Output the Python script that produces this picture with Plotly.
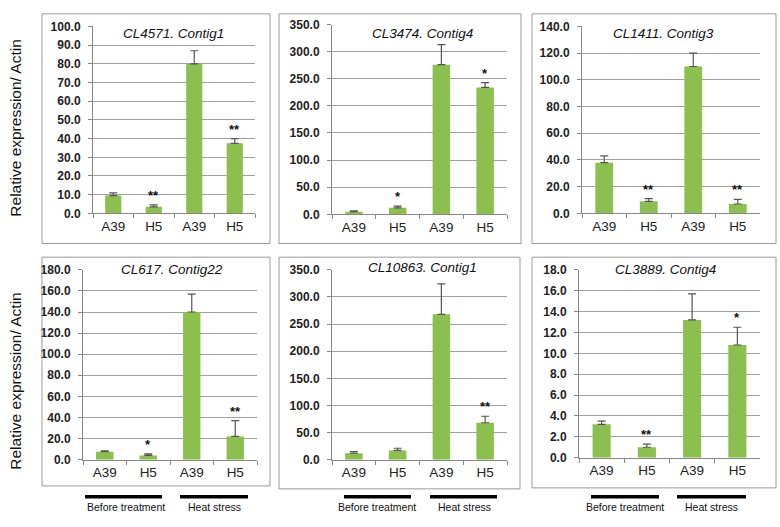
import plotly.graph_objects as go

W, H = 780, 527

categories = ["A39", "H5", "A39 ", "H5 "]
cat_labels = ["A39", "H5", "A39", "H5"]

titles = ["CL4571. Contig1", "CL3474. Contig4", "CL1411. Contig3",
          "CL617. Contig22", "CL10863. Contig1", "CL3889. Contig4"]

vals_cl4571 = [9.5, 3.5, 80.0, 37.5]
err_cl4571 = [1.5, 1.0, 7.0, 2.5]
sig_cl4571 = ["", "**", "", "**"]

vals_cl3474 = [5.0, 12.0, 276.0, 234.0]
err_cl3474 = [1.5, 3.0, 37.0, 9.0]
sig_cl3474 = ["", "*", "", "*"]

vals_cl1411 = [38.0, 9.0, 110.0, 7.0]
err_cl1411 = [5.0, 2.0, 10.0, 3.5]
sig_cl1411 = ["", "**", "", "**"]

vals_cl617 = [7.5, 4.0, 140.0, 22.0]
err_cl617 = [0.8, 1.5, 17.0, 15.0]
sig_cl617 = ["", "*", "", "**"]

vals_cl10863 = [12.0, 17.0, 268.0, 68.0]
err_cl10863 = [3.0, 4.0, 56.0, 12.0]
sig_cl10863 = ["", "", "", "**"]

vals_cl3889 = [3.2, 1.0, 13.2, 10.8]
err_cl3889 = [0.3, 0.3, 2.5, 1.7]
sig_cl3889 = ["", "**", "", "*"]

y_max = [100, 350, 140, 180, 350, 18]
y_step = [10, 50, 20, 20, 50, 2]

group_labels = ["Before treatment", "Heat stress"]
y_title = "Relative expression/ Actin"

series = [
    (vals_cl4571, err_cl4571, sig_cl4571),
    (vals_cl3474, err_cl3474, sig_cl3474),
    (vals_cl1411, err_cl1411, sig_cl1411),
    (vals_cl617, err_cl617, sig_cl617),
    (vals_cl10863, err_cl10863, sig_cl10863),
    (vals_cl3889, err_cl3889, sig_cl3889),
]

# plot areas in pixels: (x0, x1, ytop, ybottom)
areas = [(93, 255, 20, 212), (332, 507, 18, 213), (582, 760, 20, 212),
         (83, 257, 270, 465), (332, 507, 270, 465), (579, 760, 270, 463)]
boxes = [(42, 270, 7, 243), (279, 521, 7, 243), (532, 776, 7, 243),
         (42, 270, 257, 492), (279, 520, 257, 495), (532, 776, 257, 494)]
title_pos = [(173, 27), (423, 27), (663, 27), (172, 270), (423, 268), (665, 270)]

GREEN = "#8BC04E"
GRID = "#A0A0A0"
FONT = "Liberation Sans, Arial"

fig = go.Figure()
layout = dict(width=W, height=H, margin=dict(l=0, r=0, t=0, b=0),
              paper_bgcolor="white", plot_bgcolor="white", showlegend=False,
              bargap=0.6, annotations=[], shapes=[])

def px(x):
    return x / W

def py(y):
    return 1 - y / H

for i, ((v, e, s), (x0, x1, yt, yb)) in enumerate(zip(series, areas)):
    n = "" if i == 0 else str(i + 1)
    xa = "x" + n
    ya = "y" + n
    fig.add_trace(go.Bar(
        x=categories, y=v, xaxis=xa, yaxis=ya, marker_color=GREEN,
        marker_line_width=0,
        error_y=dict(type="data", array=e, arrayminus=[0] * 4, symmetric=False,
                     color="#555555", thickness=1.2, width=4),
    ))
    tv = [k * y_step[i] for k in range(int(round(y_max[i] / y_step[i])) + 1)]
    layout["xaxis" + n] = dict(
        domain=[px(x0), px(x1)], anchor=ya, type="category",
        tickvals=categories, ticktext=cat_labels, tickson="boundaries",
        ticks="outside", ticklen=4, tickcolor="#888888",
        showline=True, linecolor="#888888", linewidth=1,
        tickfont=dict(family=FONT, size=13.5, color="#222222"),
        showgrid=False, zeroline=False, fixedrange=True,
    )
    layout["yaxis" + n] = dict(
        domain=[py(yb), py(yt)], anchor=xa, range=[0, y_max[i]],
        tickvals=tv, tickformat=".1f", ticks="outside", ticklen=4,
        ticklabelstandoff=5,
        tickcolor="#888888", showline=True, linecolor="#888888", linewidth=1,
        showgrid=True, gridcolor=GRID, gridwidth=1, zeroline=False,
        tickfont=dict(family=FONT, size=12, color="#222222", weight="bold"),
        fixedrange=True,
    )
    # significance stars
    for c, val, err, star in zip(categories, v, e, s):
        if star:
            layout["annotations"].append(dict(
                x=c, y=val + err, xref=xa, yref=ya, text=star, showarrow=False,
                yanchor="bottom", yshift=0,
                font=dict(family=FONT, size=13, color="#111111", weight="bold")))
    # title
    tx, ty = title_pos[i]
    layout["annotations"].append(dict(
        x=px(tx), y=py(ty), xref="paper", yref="paper", text="<i>%s</i>" % titles[i],
        showarrow=False, xanchor="center", yanchor="middle",
        font=dict(family=FONT, size=13.5, color="#111111")))
    # panel box
    bx0, bx1, by0, by1 = boxes[i]
    layout["shapes"].append(dict(type="rect", xref="paper", yref="paper",
                                 x0=px(bx0), x1=px(bx1), y0=py(by1), y1=py(by0),
                                 line=dict(color="#999999", width=1)))

# group bars and labels under bottom row
group_bars = [[(85, 162), (180, 248)], [(344, 411), (430, 497)], [(591, 659), (677, 746)]]
group_text_x = [[126, 214], [377, 464], [625, 711]]
for bars, tx in zip(group_bars, group_text_x):
    for (a, b), t, lab in zip(bars, tx, group_labels):
        layout["shapes"].append(dict(type="line", xref="paper", yref="paper",
                                     x0=px(a), x1=px(b), y0=py(503), y1=py(503),
                                     line=dict(color="black", width=3.5)))
        layout["annotations"].append(dict(
            x=px(t), y=py(514), xref="paper", yref="paper", text=lab, showarrow=False,
            xanchor="center", yanchor="middle",
            font=dict(family=FONT, size=10.5, color="#111111")))

for yc in (125, 385):
    layout["annotations"].append(dict(
        x=px(16), y=py(yc), xref="paper", yref="paper", text=y_title, showarrow=False,
        textangle=-90, xanchor="center", yanchor="middle",
        font=dict(family=FONT, size=15.5, color="#111111")))

fig.update_layout(**layout)
fig.write_html("out.html", config={"displayModeBar": False},
               post_script="document.body.style.margin='0';document.body.style.overflow='hidden';")
